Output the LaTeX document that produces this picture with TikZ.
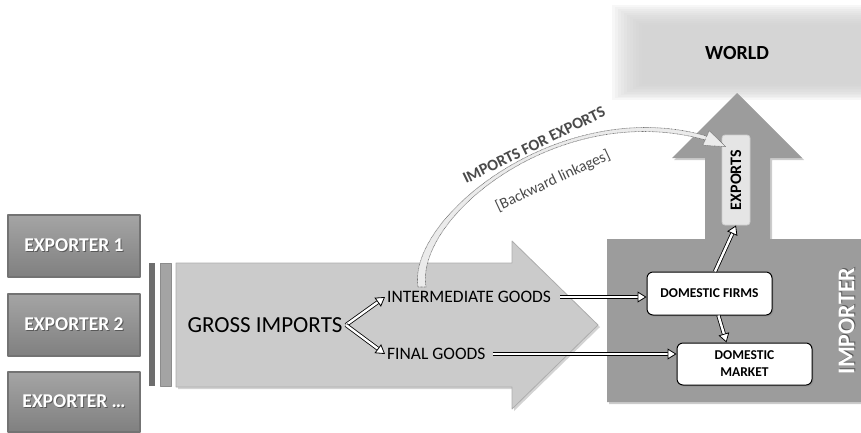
\documentclass[tikz,border=0pt]{standalone}
\usepackage{fontspec}
\setmainfont{Carlito}
\usetikzlibrary{arrows.meta,calc,shadows,positioning}
\definecolor{boxgray}{HTML}{8E8E8E}
\definecolor{flowgray}{HTML}{CBCBCB}
\definecolor{impgray}{HTML}{9C9C9C}
\definecolor{bardark}{HTML}{6E6E6E}
\definecolor{barlight}{HTML}{A4A4A4}
\definecolor{curvegray}{HTML}{4A4A4A}
\newcommand{\fsz}[2]{\fontsize{#1}{#2}\selectfont}
\newcommand{\shadowed}[1]{\makebox[0pt][l]{\kern1pt\raisebox{-1pt}{\color{black!65}#1}}#1}
\tikzset{
  exporter/.style={draw=black!55, line width=1.2pt, top color=boxgray!80!white, bottom color=boxgray!90!black,
    minimum width=132pt, minimum height=62pt, text=white, font=\bfseries\fsz{19.5}{23}},
  domestic/.style={draw=black, line width=1pt, rounded corners=6pt, fill=white, align=center,
    font=\bfseries\fsz{13.5}{17}, drop shadow={shadow xshift=1.5pt, shadow yshift=-1.5pt, opacity=.35}},
  exportbox/.style={rounded corners=3pt, fill=black!10, draw=black!20, line width=.8pt,
    minimum width=28pt, minimum height=90pt, inner sep=0pt, font=\bfseries\fsz{16}{19}},
  hollow/.style={double=white, double distance=2.4pt, line width=.8pt,
    -{Triangle[open, fill=white, length=9pt, width=11pt, line width=.8pt]}},
  dotline/.style={draw=black!55, line width=.6pt, dash pattern=on .8pt off .6pt, fill=black!8}
}
\begin{document}
\begin{tikzpicture}[x=1pt, y=-1pt, font=\fsz{17.5}{21}, line join=round]
\useasboundingbox (0,0) rectangle (861,432);
% world, soft edges
\foreach \i in {0,...,10}
  \fill[black!20, opacity=.15] (612+3*\i,5+2*\i) rectangle (861,100-1.6*\i);
\node[font=\bfseries\fsz{20}{24}] (world) at (737,53) {WORLD};
% exporters
\node[exporter] (exp1) at (74,246) {\shadowed{EXPORTER 1}};
\node[exporter] (exp2) at (74,325) {\shadowed{EXPORTER 2}};
\node[exporter, minimum height=60pt] (exp3) at (74,402) {\shadowed{EXPORTER \dots}};
% bars and gross imports arrow
\fill[bardark] (149,263) rectangle (155,386);
\draw[black!45, fill=barlight] (160,263) rectangle (171,386);
\draw[flowgray!85!black, line width=.8pt, fill=flowgray, drop shadow={shadow xshift=2pt, shadow yshift=-2pt, opacity=.35}]
  (176,263) -- (512,263) -- (512,241) -- (598,325) -- (512,409) -- (512,387) -- (176,387) -- cycle;
% importer
\fill[impgray, drop shadow={shadow xshift=2pt, shadow yshift=-2pt, opacity=.4}]
  (607,239) -- (705,239) -- (705,158) -- (672,158) -- (737,93) -- (802,158) -- (770,158)
  -- (770,239) -- (861,239) -- (861,402) -- (607,402) -- cycle;
\node[rotate=90, text=white, font=\bfseries\fsz{24}{28}] (importer) at (847,321) {\shadowed{IMPORTER}};
\node[exportbox] (exports) at (736,180) {\rotatebox{90}{EXPORTS}};
\node[domestic, minimum width=125pt, minimum height=43pt] (firms) at (709.5,293.5) {DOMESTIC FIRMS};
\node[domestic, minimum width=135pt, minimum height=42pt] (market) at (744.5,364) {DOMESTIC\\MARKET};
% goods
\node[font=\fsz{23}{27}] (gross) at (265,325) {GROSS IMPORTS};
\node[anchor=west, inner sep=2pt] (inter) at (385,297) {INTERMEDIATE GOODS};
\node[anchor=west, inner sep=2pt] (final) at (385,354) {FINAL GOODS};
\draw[hollow] (gross.east) -- (inter.west);
\draw[hollow] (gross.east) -- (final.west);
\draw[hollow, shorten <=7pt] (inter.east) -- (inter.east -| firms.west);
\draw[hollow, shorten <=5pt] (final.east) -- (final.east -| market.west);
\draw[hollow] (firms.76) -- (exports.south);
\draw[hollow] (firms.-68) -- (market.130);
% imports for exports
\coordinate (ctip) at ($(exports.north west)+(4,12)$);
\coordinate (cbase) at (706,138);
\path[dotline] ($(cbase)!8pt!90:(ctip)$) -- (ctip) -- ($(cbase)!8pt!-90:(ctip)$) -- cycle;
\path[dotline] (418,287) .. controls (407,217) and (561.7,94.1) .. (706.5,136)
  -- (705.5,140) .. controls (560.3,98.9) and (414.5,217) .. (426,287) -- cycle;
\fill[black!8] ($(cbase)!1.6pt!90:(ctip)$) -- ($(cbase)!1.6pt!-90:(ctip)$) -- ($(cbase)!3pt!(ctip)$) -- cycle;
\node[rotate=26, text=curvegray, font=\bfseries\fsz{16}{19}] (ife) at (534,145) {IMPORTS FOR EXPORTS};
\node[rotate=25, text=curvegray, font=\fsz{15.5}{18}] (bwl) at (553,181) {[Backward linkages]};
\end{tikzpicture}
\end{document}
